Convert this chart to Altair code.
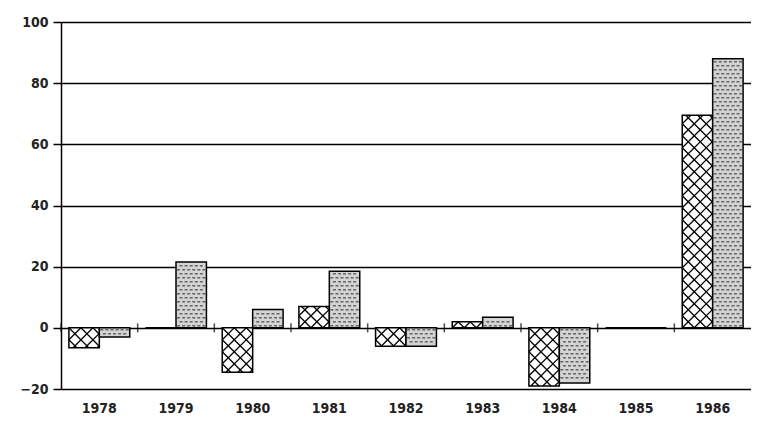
import altair as alt
import pandas as pd

years = ["1978", "1979", "1980", "1981", "1982", "1983", "1984", "1985", "1986"]
series_a = [-6.5, 0, -14.5, 7, -6, 2, -19, 0, 69.5]     # cross-hatched bars
series_b = [-3, 21.5, 6, 18.5, -6, 3.5, -18, 0, 88]      # stippled bars
series_names = ["A", "B"]
y_ticks = [-20, 0, 20, 40, 60, 80, 100]

rows = []
for i, yr in enumerate(years):
    rows.append({"year": yr, "idx": i, "series": series_names[0], "value": series_a[i]})
    rows.append({"year": yr, "idx": i, "series": series_names[1], "value": series_b[i]})
df = pd.DataFrame(rows)
df_years = pd.DataFrame({"year": years, "idx": list(range(len(years)))})

W = 690
H = 367
FONT = "DejaVu Sans Condensed"
OUTER = 0.26                      # offset-scale outer padding
BAR_FR = 1 / (2 + 2 * OUTER)      # bar width as a fraction of the year band
A_START = OUTER * BAR_FR
B_START = A_START + BAR_FR
PXU = H / 120                     # pixels per y unit
STEP_PX = W / len(years)
bar_px = STEP_PX * BAR_FR

x_scale = alt.Scale(domain=years, paddingInner=0, paddingOuter=0)
xq_scale = alt.Scale(domain=[0, len(years)], nice=False, zero=False)
y_scale = alt.Scale(domain=[-20, 100], nice=False)

x_axis = alt.Axis(title=None, ticks=False, domain=False, labelAngle=0,
                  labelPadding=12, labelFontSize=14, labelFont=FONT,
                  labelFontWeight="bold", labelColor="#222")
y_axis = alt.Axis(title=None, values=y_ticks, grid=True, gridColor="black",
                  gridWidth=1.5, gridOpacity=1, domainColor="black",
                  domainWidth=1.5, tickColor="black", tickWidth=1.5, tickSize=8,
                  labelPadding=5, labelFontSize=14, labelFont=FONT,
                  labelFontWeight="bold", labelColor="#222")

bars = alt.Chart(df).mark_bar(stroke="black", strokeWidth=1.5).encode(
    x=alt.X("year:N", scale=x_scale, sort=years, axis=x_axis),
    xOffset=alt.XOffset("series:N", scale=alt.Scale(paddingOuter=OUTER, paddingInner=0)),
    y=alt.Y("value:Q", scale=y_scale, axis=y_axis),
    fill=alt.Fill("series:N", scale=alt.Scale(domain=series_names, range=["#ffffff", "#d4d4d4"]),
                  legend=None),
)

layers = [bars]

# stipple texture for series B: staggered small dashes
D_PX = 4.0
D_U = D_PX / PXU
N_DOT = 6
for parity in (0, 1):
    ncols = N_DOT if parity == 0 else N_DOT - 1
    for k in range(ncols):
        frac = (k + 0.5) / N_DOT if parity == 0 else (k + 1) / N_DOT
        layers.append(
            alt.Chart(df).transform_filter(alt.datum.series == series_names[1])
            .transform_filter("abs(datum.value) >= %f" % D_U)
            .transform_calculate(r="sequence(0, floor(abs(datum.value) / %f))" % D_U)
            .transform_flatten(["r"])
            .transform_filter("datum.r %% 2 == %d" % parity)
            .transform_calculate(
                yv="(datum.value < 0 ? -1 : 1) * (datum.r + 0.5) * %f" % D_U,
                xv="datum.idx + %f" % (B_START + frac * BAR_FR))
            .mark_point(shape="M-1,0L1,0", size=9, filled=False,
                        stroke="#3a3a3a", strokeWidth=1.1, opacity=1)
            .encode(x=alt.X("xv:Q", scale=xq_scale, axis=None),
                    y=alt.Y("yv:Q", scale=y_scale))
        )

# small tick marks on the zero line at the year boundaries
zero_ticks = alt.Chart(df_years).mark_tick(orient="vertical", size=9, thickness=1.5,
                                           color="black").encode(
    x=alt.X("idx:Q", scale=xq_scale, axis=None),
    y=alt.datum(0),
)
layers.append(zero_ticks)

# cross-hatch texture for series A: 45-degree lines clipped to each bar
S = 12.0  # diamond size in px
w = bar_px
for fam in (1, -1):
    if fam == 1:
        kexpr = "sequence(ceil(-%f / %f), floor(datum.h / %f) + 1)" % (w, S, S)
        xa = "max(0, -datum.c)"
        xb = "min(%f, datum.h - datum.c)" % w
        ya = "datum.xa + datum.c"
        yb = "datum.xb + datum.c"
    else:
        kexpr = "sequence(0, floor((datum.h + %f) / %f) + 1)" % (w, S)
        xa = "max(0, datum.c - datum.h)"
        xb = "min(%f, datum.c)" % w
        ya = "datum.c - datum.xa"
        yb = "datum.c - datum.xb"
    layers.append(
        alt.Chart(df).transform_filter(alt.datum.series == series_names[0])
        .transform_calculate(h="abs(datum.value) * %f" % PXU,
                             sg="datum.value < 0 ? -1 : 1")
        .transform_filter("datum.h > 0.5")
        .transform_calculate(k=kexpr)
        .transform_flatten(["k"])
        .transform_calculate(c="datum.k * %f" % S)
        .transform_calculate(xa=xa, xb=xb)
        .transform_filter("datum.xb > datum.xa + 0.05")
        .transform_calculate(ya=ya, yb=yb)
        .transform_calculate(
            X1="datum.idx + %f + datum.xa / %f" % (A_START, STEP_PX),
            X2="datum.idx + %f + datum.xb / %f" % (A_START, STEP_PX),
            Y1="datum.sg * datum.ya / %f" % PXU,
            Y2="datum.sg * datum.yb / %f" % PXU,
        )
        .mark_rule(stroke="black", strokeWidth=1.3)
        .encode(x=alt.X("X1:Q", scale=xq_scale, axis=None),
                x2="X2:Q",
                y=alt.Y("Y1:Q", scale=y_scale),
                y2="Y2:Q")
    )

chart = alt.layer(*layers).resolve_scale(x="independent").properties(
    width=W, height=H, padding={"left": 11, "top": 7, "right": 0, "bottom": 0}
).configure_view(stroke=None)

chart.save("out.html", embed_options={"renderer": "svg", "actions": False})
